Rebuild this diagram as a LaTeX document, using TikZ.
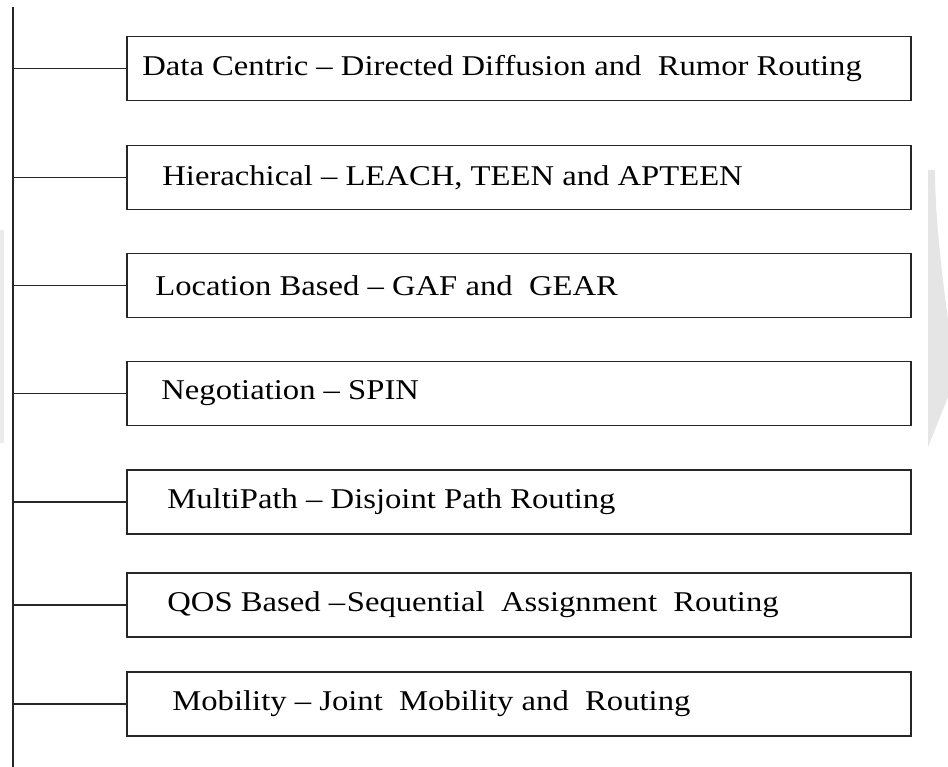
\documentclass[tikz,border=0pt]{standalone}
\usepackage{fontspec}
\setmainfont[FakeStretch=1.14]{Liberation Serif}
\usepackage{tikz}
\usetikzlibrary{positioning,calc}

\begin{document}
\begin{tikzpicture}[
		catbox/.style={draw=black!85,line width=1.1pt,minimum width=15.68cm,minimum height=1.28cm,inner sep=0pt},
		cattext/.style={inner sep=0pt,anchor=west,font=\fontsize{16.3}{18}\selectfont},
		branch/.style={draw=black!85,line width=1.1pt}]
		\useasboundingbox (0,0) rectangle (18.96,-15.34);
		% faint watermark at the edges
		\fill[black!10] (18.56,-3.4) -- (18.56,-8.94) -- (18.96,-7.94) -- (18.96,-6.4) .. controls (18.8,-5.2) and (18.7,-4.2) .. (18.7,-3.4) -- cycle;
		\fill[black!8] (0,-4.6) rectangle (0.08,-8.86);
		% trunk
		\coordinate (top) at (0.26,-0.14);
		\coordinate (bottom) at (0.26,-15.34);
		\draw[branch] (top) -- (bottom);
		% categories
		\node[catbox] (datacentric) at (10.38,-1.37) {};
		\node[cattext] (datacentrictxt) at ($(datacentric.west)+(0.32,0)$) {Data Centric -- Directed Diffusion and~ Rumor Routing};
		\node[catbox] (hierarchical) at (10.38,-3.55) {};
		\node[cattext] (hierarchicaltxt) at ($(hierarchical.west)+(0.72,0)$) {Hierachical -- LEACH, TEEN and APTEEN};
		\node[catbox] (location) at (10.38,-5.71) {};
		\node[cattext] (locationtxt) at ($(location.west)+(0.58,0)$) {Location Based -- GAF and~ GEAR};
		\node[catbox] (negotiation) at (10.38,-7.87) {};
		\node[cattext] (negotiationtxt) at ($(negotiation.west)+(0.70,0)$) {Negotiation -- SPIN};
		\node[catbox] (multipath) at (10.38,-10.04) {};
		\node[cattext] (multipathtxt) at ($(multipath.west)+(0.82,0)$) {MultiPath -- Disjoint Path Routing};
		\node[catbox] (qos) at (10.38,-12.10) {};
		\node[cattext] (qostxt) at ($(qos.west)+(0.82,0)$) {QOS Based --\kern1pt Sequential~ Assignment~ Routing};
		\node[catbox] (mobility) at (10.38,-14.08) {};
		\node[cattext] (mobilitytxt) at ($(mobility.west)+(0.92,0)$) {Mobility -- Joint~ Mobility and~ Routing};
		% branches
		\draw[branch] (datacentric.west) -- (datacentric.west -| top);
		\draw[branch] (hierarchical.west) -- (hierarchical.west -| top);
		\draw[branch] (location.west) -- (location.west -| top);
		\draw[branch] (negotiation.west) -- (negotiation.west -| top);
		\draw[branch] (multipath.west) -- (multipath.west -| top);
		\draw[branch] (qos.west) -- (qos.west -| top);
		\draw[branch] (mobility.west) -- (mobility.west -| top);
\end{tikzpicture}
\end{document}
